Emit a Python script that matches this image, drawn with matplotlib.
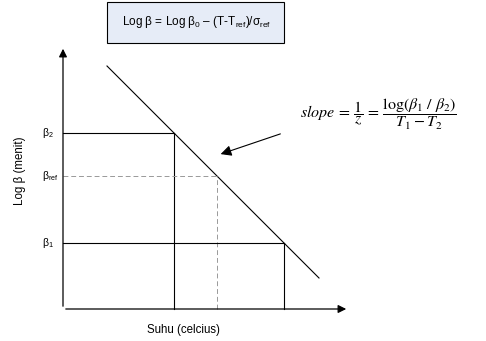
import matplotlib.pyplot as plt
from matplotlib.patches import Rectangle

plt.rcParams['mathtext.fontset'] = 'custom'
plt.rcParams['mathtext.rm'] = 'Liberation Sans'
plt.rcParams['mathtext.it'] = 'Liberation Sans:italic'
plt.rcParams['font.family'] = ['Liberation Sans', 'DejaVu Sans']

# temperature positions (arbitrary units) and log beta levels
temps = [11.1, 15.4, 22.1]          # T2, Tref, T1
levels = [17.6, 13.3, 6.6]          # beta2, beta_ref, beta1
level_labels = [r'$\mathrm{β_{2}}$', r'$\mathrm{β_{ref}}$', r'$\mathrm{β_{1}}$']
line_t = [4.4, 25.6]
intercept = 28.7                     # log beta = intercept - T

fig = plt.figure(figsize=(4.86, 3.41), dpi=100)
ax = fig.add_axes([0, 0, 1, 1])
ax.set_xlim(-6.3, 42.3)
ax.set_ylim(-3.2, 30.9)
ax.axis('off')

# axes with arrow heads
ax.annotate('', xy=(0, 26.3), xytext=(0, 0),
            arrowprops=dict(arrowstyle='-|>', color='black', lw=0.9, mutation_scale=12))
ax.annotate('', xy=(28.6, 0), xytext=(0, 0),
            arrowprops=dict(arrowstyle='-|>', color='black', lw=0.9, mutation_scale=12))

# the straight line
ax.plot(line_t, [intercept - t for t in line_t], color='black', lw=0.8)

# guide lines for beta2, beta_ref, beta1
for i, (t, b) in enumerate(zip(temps, levels)):
    if i == 1:
        ax.plot([0, t], [b, b], color='#999999', lw=0.7, ls=(0, (5, 3)))
        ax.plot([t, t], [0, b], color='#999999', lw=0.7, ls=(0, (5, 3)))
    else:
        ax.plot([0, t], [b, b], color='black', lw=0.8)
        ax.plot([t, t], [0, b], color='black', lw=0.8)
    ax.text(-2.1, b, level_labels[i], fontsize=7.5, ha='left', va='center')

# formula box
ax.add_patch(Rectangle((4.4, 26.6), 17.7, 4.1, fc='#e6ecf7', ec='black', lw=0.8))
ax.text(13.4, 28.65,
        r'Log β = Log β$_{\mathrm{0}}$ – (T-T$_{\mathrm{ref}}$)/σ$_{\mathrm{ref}}$',
        fontsize=8.5, ha='center', va='center')

# slope annotation
ax.annotate('', xy=(15.5, 15.4), xytext=(22.0, 17.6),
            arrowprops=dict(arrowstyle='-|>', color='black', lw=0.8, mutation_scale=16))
ax.text(23.7, 19.5,
        r'$slope\,=\,\dfrac{1}{z}\,=\,\dfrac{\log(\beta_1\ /\ \beta_2)}{T_1 - T_2}$',
        fontsize=11.5, ha='left', va='center', math_fontfamily='stix')

ax.text(-4.3, 13.8, 'Log β (menit)', fontsize=8.3, rotation=90, ha='center', va='center')
ax.text(12.0, -2.1, 'Suhu (celcius)', fontsize=8.3, ha='center', va='center')

fig.savefig('out.png', dpi=100)
